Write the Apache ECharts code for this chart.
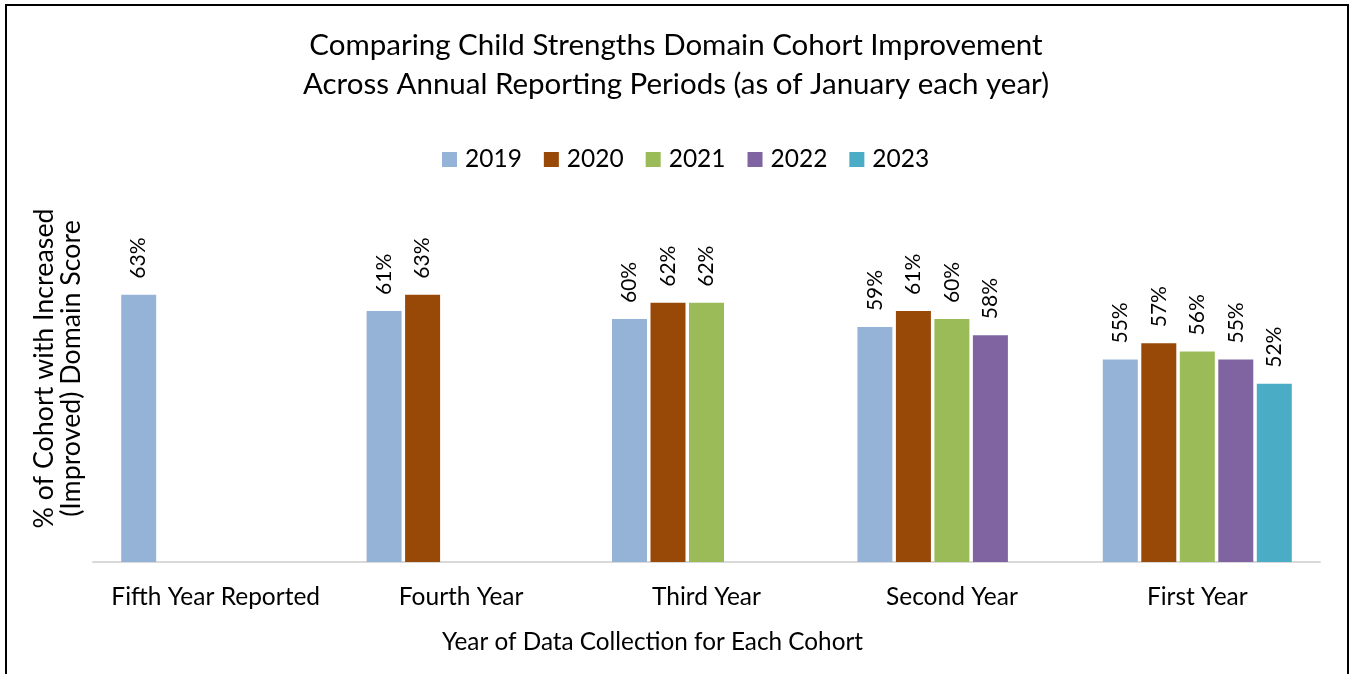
<!DOCTYPE html>
<html>
<head>
<meta charset="utf-8">
<script src="https://cdn.jsdelivr.net/npm/echarts@6/dist/echarts.min.js"></script>
<style>
  html, body { margin: 0; padding: 0; background: #fff; }
  #chart { width: 1352px; height: 674px; }
</style>
</head>
<body>
<div id="chart"></div>
<script>
// Cohort year of data collection (x categories)
const categories = ['Fifth Year Reported', 'Fourth Year', 'Third Year', 'Second Year', 'First Year'];
// Reporting periods (series)
const years = ['2019', '2020', '2021', '2022', '2023'];
// % of cohort with improved domain score, per reporting period
const values2019 = [63, 61, 60, 59, 55];
const values2020 = [null, 63, 62, 61, 57];
const values2021 = [null, null, 62, 60, 56];
const values2022 = [null, null, null, 58, 55];
const values2023 = [null, null, null, null, 52];
const seriesValues = [values2019, values2020, values2021, values2022, values2023];
const colors = ['#95B3D7', '#984807', '#9BBB59', '#8064A2', '#4BACC6'];

const FONT = 'Lato';
const chart = echarts.init(document.getElementById('chart'));

chart.setOption({
  animation: false,
  color: colors,
  textStyle: { fontFamily: FONT, color: '#000' },
  title: {
    text: 'Comparing Child Strengths Domain Cohort Improvement\nAcross Annual Reporting Periods (as of January each year)',
    left: 'center',
    top: 21,
    textStyle: { fontFamily: FONT, fontSize: 29.5, fontWeight: 'normal', lineHeight: 39, color: '#000' }
  },
  legend: {
    top: 142,
    left: 437,
    itemWidth: 15,
    itemHeight: 15,
    itemGap: 22,
    icon: 'rect',
    textStyle: { fontFamily: FONT, fontSize: 24.5, color: '#000', padding: [0, 0, 0, 3] },
    data: years
  },
  grid: { left: 93, right: 32, top: 157, bottom: 112, containLabel: false },
  xAxis: {
    type: 'category',
    data: categories,
    name: 'Year of Data Collection for Each Cohort',
    nameLocation: 'middle',
    nameGap: 68,
    nameTextStyle: { fontFamily: FONT, fontSize: 24.3, color: '#000', padding: [0, 108, 0, 0] },
    axisLine: { lineStyle: { color: '#d9d9d9', width: 2 } },
    axisTick: { show: false },
    axisLabel: { interval: 0, fontFamily: FONT, fontSize: 24.5, color: '#000', margin: 23 }
  },
  yAxis: {
    type: 'value',
    min: 30,
    max: 80,
    name: '% of Cohort with Increased\n(Improved) Domain Score',
    nameLocation: 'middle',
    nameGap: 8,
    nameTextStyle: { fontFamily: FONT, fontSize: 26.8, color: '#000', lineHeight: 27, padding: [0, 18, 0, 0] },
    axisLine: { show: false },
    axisTick: { show: false },
    axisLabel: { show: false },
    splitLine: { show: false }
  },
  series: years.map((y, i) => ({
    name: y,
    type: 'bar',
    data: seriesValues[i],
    barWidth: 35,
    barGap: '10%',
    itemStyle: { color: colors[i] },
    label: {
      show: true,
      position: 'top',
      rotate: 90,
      align: 'left',
      verticalAlign: 'middle',
      distance: 16,
      fontFamily: FONT,
      fontSize: 21,
      color: '#000',
      formatter: p => p.value + '%'
    }
  })),
  graphic: [{
    type: 'rect',
    silent: true,
    shape: { x: 6, y: 5, width: 1342, height: 720 },
    style: { fill: 'none', stroke: '#000', lineWidth: 2 }
  }]
});
</script>
</body>
</html>
